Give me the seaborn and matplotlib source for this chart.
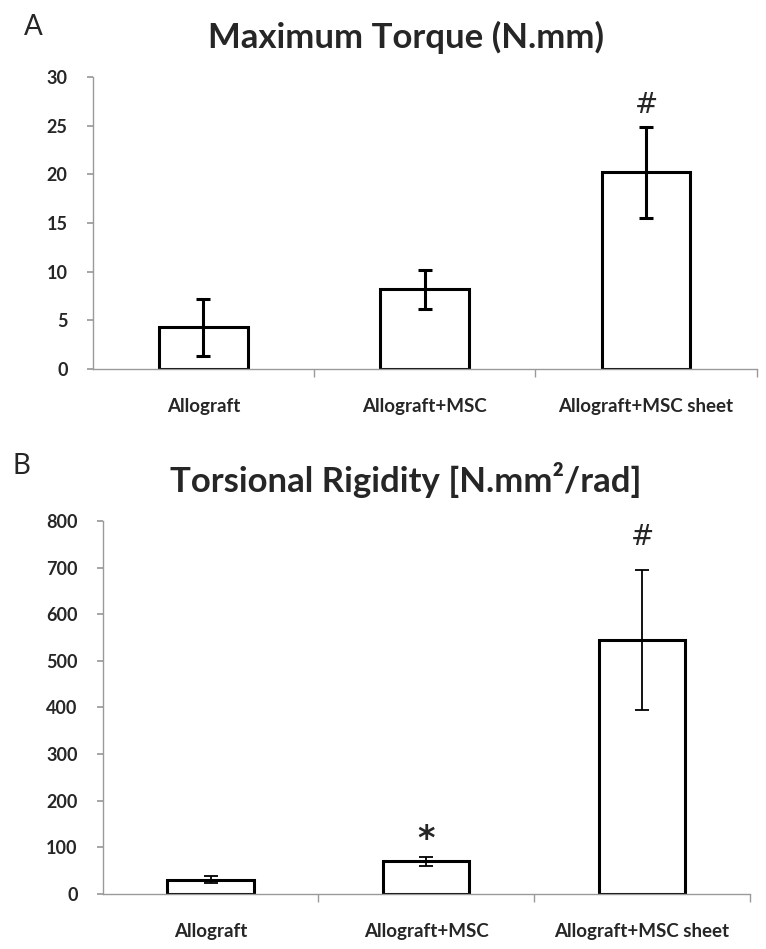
import matplotlib
matplotlib.use("Agg")
import matplotlib.pyplot as plt
import seaborn as sns
import pandas as pd
import numpy as np

categories = ["Allograft", "Allograft+MSC", "Allograft+MSC sheet"]
torque_mean = [4.3, 8.2, 20.2]
torque_err = [2.9, 2.0, 4.7]
rigidity_mean = [31, 70, 545]
rigidity_err = [7, 9, 150]
torque_marks = ["", "", "#"]
rigidity_marks = ["", "*", "#"]
torque_ticks = [0, 5, 10, 15, 20, 25, 30]
rigidity_ticks = [0, 100, 200, 300, 400, 500, 600, 700, 800]

sns.set_theme(style="white")
plt.rcParams['font.family'] = ['Lato', 'DejaVu Sans']

fig = plt.figure(figsize=(7.66, 9.49), dpi=100)
ax1 = fig.add_axes([0.121, 0.611, 0.867, 0.308])
ax2 = fig.add_axes([0.134, 0.058, 0.845, 0.393])

def panel(ax, means, errs, marks, ticks, ymax, elw, capsize, title, letter, lx, ly, mark_pads):
    df = pd.DataFrame({"cat": categories, "val": means})
    sns.barplot(data=df, x="cat", y="val", ax=ax, color="white", width=0.40,
                edgecolor="black", linewidth=2.2, errorbar=None, saturation=1)
    ax.errorbar(range(len(categories)), means, yerr=errs, fmt="none",
                ecolor="black", elinewidth=elw, capsize=capsize, capthick=elw)
    for i, (m, e, t, p) in enumerate(zip(means, errs, marks, mark_pads)):
        if t == "#":
            ax.text(i, m + e + p, t, ha="center", va="bottom",
                    fontsize=20, family=['DejaVu Sans'])
        elif t:
            ax.text(i, m + e + p, t, ha="center", va="bottom",
                    fontsize=24, fontweight="bold", family=['DejaVu Sans'])
    ax.set_xlim(-0.5, 2.5)
    ax.set_ylim(0, ymax)
    ax.set_yticks(ticks)
    ax.set_yticklabels([str(t) for t in ticks], fontsize=13, fontweight="bold")
    ax.set_xticks(range(len(categories)))
    ax.set_xticklabels(categories, fontsize=13.5, fontweight="bold")
    ax.set_xlabel("")
    ax.set_ylabel("")
    for s in ["top", "right"]:
        ax.spines[s].set_visible(False)
    for s in ["left", "bottom"]:
        ax.spines[s].set_color("#9a9a9a")
        ax.spines[s].set_linewidth(1.0)
    ax.tick_params(axis="x", length=0, pad=21)
    ax.tick_params(axis="y", length=4, color="#9a9a9a", direction="out", left=True, pad=14)
    ax.set_xticks([0.5, 1.5, 2.5], minor=True)
    ax.tick_params(axis="x", which="minor", length=6, color="#9a9a9a", direction="out", bottom=True)
    fig.text(0.53, title[1], title[0], ha="center", va="center",
             fontsize=25, fontweight="bold")
    fig.text(lx, ly, letter, ha="left", va="center", fontsize=20)

panel(ax1, torque_mean, torque_err, torque_marks, torque_ticks, 30, 2.2, 5,
      ("Maximum Torque (N.mm)", 1 - 37 / 949), "A", 0.031, 1 - 27 / 949, [0, 0, 0.8])
panel(ax2, rigidity_mean, rigidity_err, rigidity_marks, rigidity_ticks, 800, 1.3, 5,
      ("Torsional Rigidity [N.mm²/rad]", 1 - 480 / 949), "B", 0.016, 1 - 466 / 949, [0, 2, 40])

fig.savefig("out.png", dpi=100, facecolor="white")
